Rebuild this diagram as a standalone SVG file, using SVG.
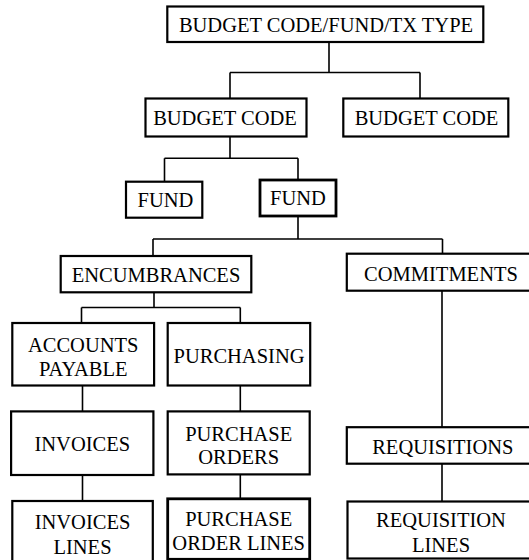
<svg xmlns="http://www.w3.org/2000/svg" width="529" height="560" viewBox="0 0 529 560">
<style>
.box{fill:#fff;stroke:#000;stroke-width:2.2}
.thick{stroke-width:2.8}
.lbl{font-family:"Liberation Serif","Times New Roman",serif;font-size:20.5px;fill:#000;text-anchor:middle}
#connectors path{fill:none;stroke:#000;stroke-width:1.6}
</style>
<rect width="529" height="560" fill="#fff"/>
<g id="connectors">
<path d="M329,42 V72.5 M230,72.5 H420 M230,72.5 V98.5 M420,72.5 V98.5"/>
<path d="M230,136.5 V158.3 M164.5,158.3 H298 M164.5,158.3 V181.7 M298,158.3 V180"/>
<path d="M298,216 V239 M153,239 H442.5 M153,239 V256 M442.5,239 V254"/>
<path d="M154,292 V307.5 M81.5,307.5 H240.3 M81.5,307.5 V323 M240.3,307.5 V323"/>
<path d="M82.5,385.5 V411.4 M240.3,385.5 V411.4"/>
<path d="M82.5,475 V501 M240.3,474.5 V500"/>
<path d="M442,290.8 V427.2 M442,463.7 V501.5"/>
</g>
<g id="n-root"><rect class="box" x="167.3" y="6.5" width="316" height="35.5"/><text class="lbl" x="326" y="31.7">BUDGET CODE/FUND/TX TYPE</text></g>
<g id="n-bc1"><rect class="box" x="145.5" y="98.5" width="161" height="38"/><text class="lbl" x="225" y="125">BUDGET CODE</text></g>
<g id="n-bc2"><rect class="box" x="343.3" y="98.5" width="165" height="38"/><text class="lbl" x="426.5" y="125">BUDGET CODE</text></g>
<g id="n-fund1"><rect class="box" x="126" y="181.7" width="76.3" height="36"/><text class="lbl" x="165.5" y="206.7">FUND</text></g>
<g id="n-fund2"><rect class="box thick" x="260" y="180" width="76" height="36"/><text class="lbl" x="298" y="205">FUND</text></g>
<g id="n-enc"><rect class="box" x="60.7" y="256" width="190.6" height="36.3"/><text class="lbl" x="156" y="282.4">ENCUMBRANCES</text></g>
<g id="n-com"><rect class="box" x="346.8" y="253.7" width="200" height="37"/><text class="lbl" x="441" y="280.7">COMMITMENTS</text></g>
<g id="n-ap"><rect class="box" x="12.3" y="323" width="141.8" height="62.5"/><text class="lbl" x="83.2" y="351.6">ACCOUNTS</text><text class="lbl" x="83.2" y="375.9">PAYABLE</text></g>
<g id="n-pur"><rect class="box" x="167.7" y="323" width="142.5" height="62.5"/><text class="lbl" x="239" y="363.4">PURCHASING</text></g>
<g id="n-inv"><rect class="box" x="11.1" y="411.4" width="142.3" height="63.6"/><text class="lbl" x="82.3" y="450.8">INVOICES</text></g>
<g id="n-po"><rect class="box" x="167.7" y="411.4" width="142" height="63"/><text class="lbl" x="238.7" y="440.7">PURCHASE</text><text class="lbl" x="238.7" y="464.3">ORDERS</text></g>
<g id="n-req"><rect class="box" x="346.8" y="427.2" width="200" height="36.5"/><text class="lbl" x="442.8" y="454.2">REQUISITIONS</text></g>
<g id="n-invl"><rect class="box" x="12.3" y="501" width="140.5" height="65"/><text class="lbl" x="82.5" y="529.1">INVOICES</text><text class="lbl" x="82.5" y="553.7">LINES</text></g>
<g id="n-pol"><rect class="box thick" x="167.7" y="498.8" width="142" height="60.5"/><text class="lbl" x="238.7" y="525.7">PURCHASE</text><text class="lbl" x="238.7" y="550.4">ORDER LINES</text></g>
<g id="n-reql"><rect class="box" x="347.5" y="501.5" width="200" height="57"/><text class="lbl" x="441" y="527.4">REQUISITION</text><text class="lbl" x="441" y="552.1">LINES</text></g>
</svg>
